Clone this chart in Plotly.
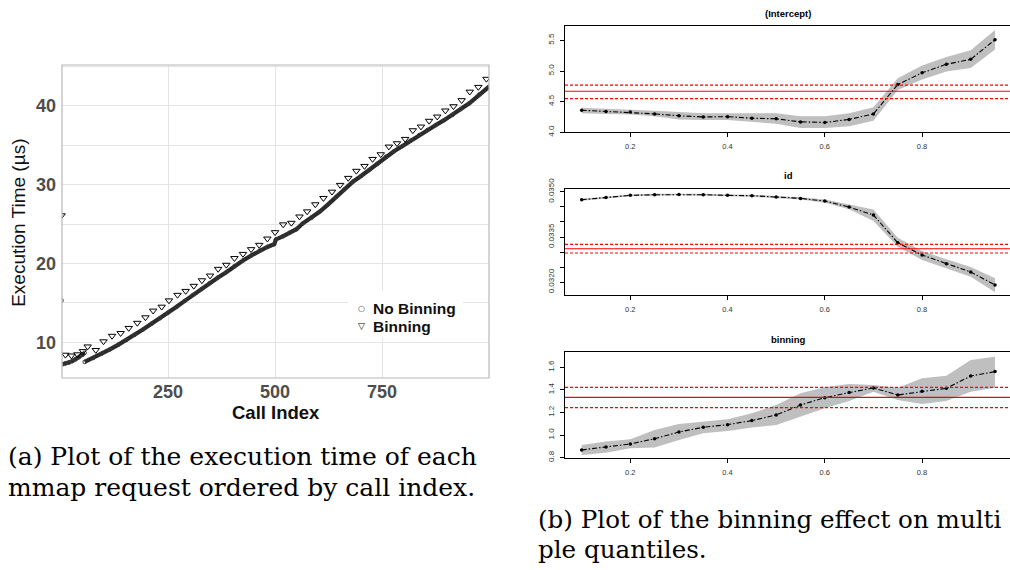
import plotly.graph_objects as go

# ---------------- (a) execution time per call index ----------------
nb_head_idx = [3, 10, 18, 26, 34, 42, 50, 55]
nb_head_time = [7.2, 7.3, 7.4, 7.6, 7.85, 8.1, 8.4, 8.65]

nb_idx = [55, 75, 95, 114, 134, 153, 172, 192, 211, 231, 250, 270, 289, 308, 328, 347,
          366, 386, 405, 425, 444, 464, 482, 498, 502, 518, 534, 550, 565, 585, 604, 624,
          643, 662, 682, 701, 720, 740, 759, 778, 798, 817, 837, 856, 876, 895, 915, 934,
          954, 977, 1000]
nb_time = [7.5, 8.0, 8.55, 9.1, 9.7, 10.3, 10.95, 11.65, 12.35, 13.05, 13.75, 14.5, 15.25,
           16.0, 16.75, 17.5, 18.2, 18.9, 19.65, 20.37, 21.0, 21.64, 22.1, 22.45, 23.05,
           23.45, 23.9, 24.35, 25.1, 25.8, 26.57, 27.5, 28.47, 29.4, 30.38, 31.1, 31.86,
           32.7, 33.56, 34.25, 34.92, 35.6, 36.31, 36.95, 37.58, 38.2, 38.86, 39.6, 40.34,
           41.45, 42.45]
nb_out_idx = [1]
nb_out_time = [15.3]

bin_idx = [1, 10, 24, 38, 51, 62, 81, 99, 119, 139, 158, 178, 197, 215, 235, 252, 272, 291,
           310, 329, 348, 367, 386, 405, 425, 444, 463, 482, 500, 519, 538, 557, 575, 594,
           613, 633, 652, 671, 690, 709, 728, 747, 766, 785, 804, 822, 841, 860, 879, 898,
           917, 936, 955, 975, 994]
bin_time = [26.1, 8.4, 8.3, 8.45, 8.85, 9.45, 9.0, 10.1, 10.8, 11.15, 11.8, 12.45, 13.15,
            14.0, 14.5, 15.3, 16.0, 16.5, 17.15, 17.85, 18.45, 19.3, 19.82, 20.67, 21.2,
            21.8, 22.35, 23.15, 23.96, 24.95, 25.15, 25.95, 26.6, 27.5, 28.3, 29.1, 29.96,
            30.85, 31.75, 32.37, 33.26, 33.85, 34.83, 35.25, 35.8, 36.9, 37.37, 38.1, 38.64,
            39.41, 39.95, 40.72, 41.8, 42.4, 43.43]

left_xticks = [250, 500, 750]
left_yticks = [10, 20, 30, 40]
left_yminor = [15, 25, 35, 45]

# ---------------- (b) quantile regression coefficients ----------------
quantiles = [0.10, 0.15, 0.20, 0.25, 0.30, 0.35, 0.40, 0.45, 0.50,
             0.55, 0.60, 0.65, 0.70, 0.75, 0.80, 0.85, 0.90, 0.95]

icpt_coef = [4.36, 4.34, 4.33, 4.30, 4.27, 4.25, 4.255, 4.23, 4.22,
             4.17, 4.16, 4.21, 4.30, 4.78, 4.97, 5.11, 5.19, 5.51]
icpt_hi = [4.40, 4.385, 4.375, 4.35, 4.33, 4.31, 4.31, 4.31, 4.31,
           4.26, 4.26, 4.31, 4.41, 4.88, 5.09, 5.23, 5.34, 5.67]
icpt_lo = [4.31, 4.30, 4.29, 4.26, 4.21, 4.20, 4.20, 4.17, 4.14,
           4.07, 4.07, 4.10, 4.19, 4.69, 4.86, 4.99, 5.05, 5.35]
icpt_ols = [4.67, 4.55, 4.77]

id_coef = [0.034735, 0.034812, 0.034879, 0.034901, 0.034912, 0.034901, 0.034879, 0.034868,
           0.034824, 0.034779, 0.034691, 0.034493, 0.034228, 0.033312, 0.032904, 0.032618,
           0.032342, 0.031912]
id_hi = [0.034768, 0.034846, 0.034912, 0.034934, 0.034945, 0.034934, 0.034912, 0.034901,
         0.034857, 0.034818, 0.034746, 0.034570, 0.034415, 0.033478, 0.033037, 0.032761,
         0.032507, 0.032132]
id_lo = [0.034702, 0.034779, 0.034846, 0.034868, 0.034879, 0.034868, 0.034846, 0.034835,
         0.034791, 0.034741, 0.034636, 0.034416, 0.034029, 0.033180, 0.032739, 0.032463,
         0.032187, 0.031669]
id_ols = [0.033113, 0.032970, 0.033257]

binn_coef = [0.868, 0.894, 0.921, 0.968, 1.027, 1.069, 1.092, 1.128, 1.178,
             1.266, 1.331, 1.376, 1.417, 1.355, 1.387, 1.414, 1.523, 1.562]
binn_hi = [0.912, 0.942, 0.962, 1.045, 1.098, 1.119, 1.139, 1.193, 1.266,
           1.370, 1.423, 1.452, 1.444, 1.420, 1.503, 1.526, 1.665, 1.694]
binn_lo = [0.824, 0.844, 0.883, 0.889, 0.956, 1.016, 1.036, 1.066, 1.089,
           1.163, 1.237, 1.302, 1.384, 1.311, 1.275, 1.302, 1.384, 1.420]
binn_ols = [1.334, 1.243, 1.423]

q_xticks = [0.2, 0.4, 0.6, 0.8]
icpt_yticks = [4.0, 4.5, 5.0, 5.5]
id_yticks = [0.0320, 0.0325, 0.0330, 0.0335, 0.0340, 0.0345, 0.0350]
id_ylabels = ["0.0320", "", "", "0.0335", "", "", "0.0350"]
binn_yticks = [0.8, 1.0, 1.2, 1.4, 1.6]

SANS = "Liberation Sans, Arial, sans-serif"
SERIF = "DejaVu Serif, serif"
W, H = 1010, 570


def px(x):
    return x / W


def py(y):
    return 1 - y / H


fig = go.Figure()

# ---- panel (a) ----
band = dict(color="#2b2b2b", width=4.2)
fig.add_trace(go.Scatter(x=nb_head_idx, y=nb_head_time, mode="lines", line=band,
                         xaxis="x", yaxis="y", hoverinfo="skip", showlegend=False))
fig.add_trace(go.Scatter(x=nb_idx, y=nb_time, mode="lines", line=band,
                         xaxis="x", yaxis="y", hoverinfo="skip", showlegend=False))
fig.add_trace(go.Scatter(x=nb_head_idx + nb_idx + nb_out_idx,
                         y=nb_head_time + nb_time + nb_out_time,
                         mode="markers", name="No Binning",
                         marker=dict(symbol="circle-open", size=3.6, color="#3a3a3a",
                                     line=dict(width=1)),
                         xaxis="x", yaxis="y"))
fig.add_trace(go.Scatter(x=bin_idx, y=bin_time, mode="markers", name="Binning",
                         marker=dict(symbol="triangle-down-open", size=6.5, color="black",
                                     line=dict(width=1)),
                         xaxis="x", yaxis="y"))

# ---- panels (b) ----
panels = [
    ("x2", "y2", icpt_coef, icpt_lo, icpt_hi, icpt_ols),
    ("x3", "y3", id_coef, id_lo, id_hi, id_ols),
    ("x4", "y4", binn_coef, binn_lo, binn_hi, binn_ols),
]
shapes = []
for xa, ya, coef, lo, hi, ols in panels:
    fig.add_trace(go.Scatter(x=quantiles + quantiles[::-1], y=hi + lo[::-1],
                             fill="toself", fillcolor="#bfbfbf", line=dict(width=0),
                             mode="lines", xaxis=xa, yaxis=ya, hoverinfo="skip",
                             showlegend=False))
    fig.add_trace(go.Scatter(x=quantiles, y=coef, mode="lines+markers",
                             line=dict(color="black", width=1.1, dash="5px,2px,1.5px,2px"),
                             marker=dict(color="black", size=3.5),
                             xaxis=xa, yaxis=ya, showlegend=False))
    for k, v in enumerate(ols):
        shapes.append(dict(type="line", xref=xa + " domain", yref=ya, x0=0, x1=1,
                           y0=v, y1=v, layer="above",
                           line=dict(color="#ff0000", width=1.1 if k == 0 else 1.2,
                                     dash="solid" if k == 0 else "3px,2px")))

# panel (a) border and legend box
shapes.append(dict(type="rect", xref="x domain", yref="y domain", x0=0, x1=1, y0=0, y1=1,
                   line=dict(color="#b8b8b8", width=1.2), layer="above"))
shapes.append(dict(type="rect", xref="paper", yref="paper", x0=px(348), x1=px(463),
                   y0=py(338), y1=py(291), fillcolor="white", line=dict(width=0),
                   layer="above"))

grid = "#e4e4e4"
left_tickfont = dict(family=SANS, size=18, color="#4d4d4d", weight="bold")
q_tickfont = dict(family=SANS, size=7.5, color="#333333")


def q_xaxis(anchor):
    return dict(domain=[px(565), 1.0], range=[0.0657, 0.9808], anchor=anchor,
                tickmode="array", tickvals=q_xticks, ticktext=[f"{t:.1f}" for t in q_xticks],
                ticks="outside", ticklen=4, tickwidth=1, tickcolor="black",
                showline=True, linecolor="black", linewidth=1, mirror=True,
                showgrid=False, zeroline=False, tickfont=q_tickfont, ticklabelstandoff=3,
                automargin=False)


def q_yaxis(anchor, dom, rng, vals, labels):
    return dict(domain=dom, range=rng, anchor=anchor, tickmode="array",
                tickvals=vals, ticktext=labels, tickangle=-90,
                ticks="outside", ticklen=4, tickwidth=1, tickcolor="black",
                showline=True, linecolor="black", linewidth=1, mirror=False,
                showgrid=False, zeroline=False,
                tickfont=dict(family=SANS, size=8, color="#333333"), ticklabelstandoff=3,
                automargin=False)


fig.update_layout(
    template="none",
    width=W, height=H, margin=dict(l=0, r=0, t=0, b=0, pad=0), autosize=False,
    paper_bgcolor="white", plot_bgcolor="white", showlegend=False,
    font=dict(family=SANS, color="#333333"),
    xaxis=dict(domain=[px(62), px(489)], range=[2, 1000], anchor="y",
               tickmode="array", tickvals=left_xticks, ticks="",
               showgrid=True, gridcolor=grid, gridwidth=1.3, zeroline=False,
               showline=False, tickfont=left_tickfont, ticklabelstandoff=1,
               automargin=False),
    yaxis=dict(domain=[py(378), py(65)], range=[5.46, 45.2], anchor="x",
               tickmode="array", tickvals=left_yticks, ticks="",
               showgrid=True, gridcolor=grid, gridwidth=1.3, zeroline=False,
               showline=False, tickfont=left_tickfont, ticklabelstandoff=5,
               automargin=False,
               minor=dict(tickmode="array", tickvals=left_yminor, showgrid=True,
                          gridcolor=grid, gridwidth=1.3, ticks="")),
    xaxis2=q_xaxis("y2"),
    yaxis2=q_yaxis("x2", [py(132.3), py(26)], [4.0, 5.734], icpt_yticks,
                   [f"{t:.1f}" for t in icpt_yticks]),
    xaxis3=q_xaxis("y3"),
    yaxis3=q_yaxis("x3", [py(295), py(189)], [0.03158, 0.03509], id_yticks, id_ylabels),
    xaxis4=q_xaxis("y4"),
    yaxis4=q_yaxis("x4", [py(458.3), py(352.3)], [0.794, 1.733], binn_yticks,
                   [f"{t:.1f}" for t in binn_yticks]),
    shapes=shapes,
)

ann = []
# panel (a) axis titles
ann.append(dict(text="Execution Time (µs)", x=px(18.3), y=py(222.5), xref="paper",
                yref="paper", textangle=-90, showarrow=False, xanchor="center",
                yanchor="middle", font=dict(family=SANS, size=19, color="#111111")))
ann.append(dict(text="<b>Call Index</b>", x=px(275.5), y=py(412), xref="paper",
                yref="paper", showarrow=False, xanchor="center", yanchor="middle",
                font=dict(family=SANS, size=18.5, color="#111111")))
# legend
ann.append(dict(text="○", x=px(361.7), y=py(308.3), xref="paper", yref="paper",
                showarrow=False, xanchor="center", yanchor="middle",
                font=dict(family="DejaVu Sans", size=8, color="#333333")))
ann.append(dict(text="▽", x=px(361.7), y=py(326), xref="paper", yref="paper",
                showarrow=False, xanchor="center", yanchor="middle",
                font=dict(family="DejaVu Sans", size=9, color="black")))
ann.append(dict(text="<b>No Binning</b>", x=px(370.5), y=py(308.3), xref="paper",
                yref="paper", showarrow=False, xanchor="left", yanchor="middle",
                font=dict(family=SANS, size=15.5, color="#111111")))
ann.append(dict(text="<b>Binning</b>", x=px(370.5), y=py(326), xref="paper",
                yref="paper", showarrow=False, xanchor="left", yanchor="middle",
                font=dict(family=SANS, size=15.5, color="#111111")))
# panel (b) titles
for title, yy in [("(Intercept)", 13.3), ("id", 175.7), ("binning", 339)]:
    ann.append(dict(text=f"<b>{title}</b>", x=px(788), y=py(yy), xref="paper",
                    yref="paper", showarrow=False, xanchor="center", yanchor="middle",
                    font=dict(family=SANS, size=9.5, color="black")))
# captions
captions = [
    ("(a) Plot of the execution time of each", 6, 456.3, 25),
    ("mmap request ordered by call index.", 6, 487.3, 25),
    ("(b) Plot of the binning effect on multi", 536, 519, 24.6),
    ("ple quantiles.", 536, 549.6, 24.6),
]
for text, xx, yy, fs in captions:
    ann.append(dict(text=text, x=px(xx), y=py(yy), xref="paper", yref="paper",
                    showarrow=False, xanchor="left", yanchor="middle",
                    font=dict(family=SERIF, size=fs, color="black")))

fig.update_layout(annotations=ann)
fig.write_html("out.html")
